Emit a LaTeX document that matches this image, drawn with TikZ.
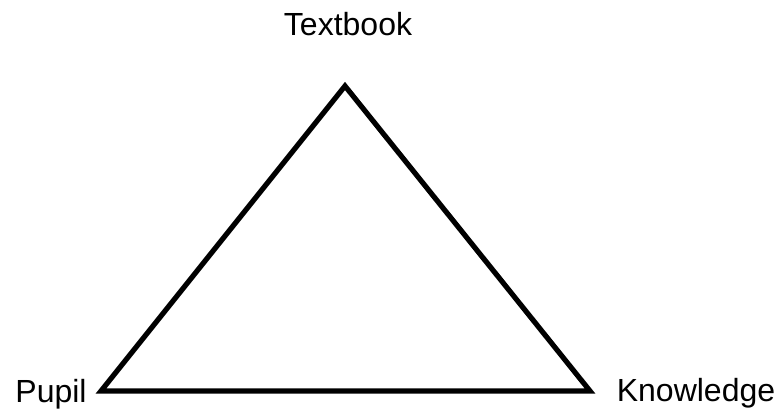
\documentclass[tikz,border=0pt]{standalone}
\usepackage{fontspec}
\setmainfont{Liberation Sans}
\usepackage{tikz}

\begin{document}
\begin{tikzpicture}[x=0.5pt,y=-0.5pt,
    corner/.style={font=\fontsize{16}{19}\selectfont,inner sep=0pt,anchor=base}]
    \useasboundingbox (0,0) rectangle (778,410);

    \coordinate (top) at (345,86);
    \coordinate (left) at (101,391);
    \coordinate (right) at (590,391);
    \draw[line width=2.6pt,line join=miter] (left)--(top)--(right)--cycle;

    \node[corner] (textbook) at (348,36) {Textbook};
    \node[corner] (pupil) at (51,403) {Pupil};
    \node[corner] (knowledge) at (696,402) {Knowledge};
\end{tikzpicture}
\end{document}
